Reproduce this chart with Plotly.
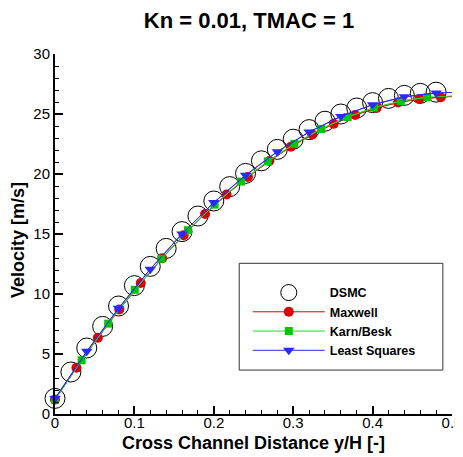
import plotly.graph_objects as go

# ---- data ----
dsmc_x = [0.00, 0.02, 0.04, 0.06, 0.08, 0.10, 0.12, 0.14, 0.16, 0.18, 0.20, 0.22, 0.24,
          0.26, 0.28, 0.30, 0.32, 0.34, 0.36, 0.38, 0.40, 0.42, 0.44, 0.46, 0.48]
dsmc_v = [1.3, 3.5, 5.5, 7.3, 9.0, 10.7, 12.3, 13.8, 15.2, 16.5, 17.75, 18.95, 20.05,
          21.1, 22.05, 22.9, 23.7, 24.4, 25.0, 25.5, 25.95, 26.3, 26.55, 26.72, 26.82]

maxwell_x = [0.0, 0.027, 0.054, 0.081, 0.108, 0.135, 0.162, 0.189, 0.216, 0.243,
             0.270, 0.297, 0.324, 0.351, 0.378, 0.405, 0.432, 0.459, 0.486]
maxwell_v = [1.2, 3.85, 6.35, 8.71, 10.92, 12.98, 14.90, 16.67, 18.29, 19.76,
             21.09, 22.27, 23.30, 24.19, 24.92, 25.51, 25.96, 26.26, 26.40]

karn_x = [0.0, 0.0335, 0.067, 0.1005, 0.134, 0.1675, 0.201, 0.2345, 0.268, 0.3015,
          0.335, 0.3685, 0.402, 0.4355, 0.469]
karn_v = [1.2, 4.48, 7.53, 10.35, 12.94, 15.31, 17.45, 19.37, 21.05, 22.51,
          23.75, 24.75, 25.53, 26.07, 26.40]

lsq_x = [0.0, 0.04, 0.08, 0.12, 0.16, 0.20, 0.24, 0.28, 0.32, 0.36, 0.40, 0.44, 0.48]
lsq_v = [1.3, 5.22, 8.81, 12.07, 15.01, 17.62, 19.90, 21.86, 23.50, 24.80, 25.78, 26.43, 26.76]

# curve values at the channel centre (lines continue past the last symbol)
centre_x = 0.5
maxwell_centre = 26.45
karn_centre = 26.5
lsq_centre = 26.8

x_tickvals = [0, 0.1, 0.2, 0.3, 0.4, 0.5]
x_ticktext = ["0", "0.1", "0.2", "0.3", "0.4", "0.5"]
y_tickvals = [0, 5, 10, 15, 20, 25, 30]
y_ticktext = ["0", "5", "10", "15", "20", "25", "30"]

title_text = "Kn = 0.01, TMAC = 1"
x_title = "Cross Channel Distance y/H [-]"
y_title = "Velocity [m/s]"

FONT = "Liberation Sans, Arial, sans-serif"

RED = "#dd0000"
GREEN = "#00c800"
GREEN_LINE = "#33cc33"
BLUE = "#2a2aff"

# the page body adds an 8 px margin around the figure; size the figure to fit the window
W, H = 455, 449
ML, MR, MT, MB = 47, 11, 46, 43
OFF = 8

fig = go.Figure()

fig.add_trace(go.Scatter(
    x=dsmc_x, y=dsmc_v, mode="markers", name="DSMC", cliponaxis=False,
    marker=dict(symbol="circle-open", size=20, color="black", line=dict(width=1, color="black")),
))

series = [
    ("Maxwell", maxwell_x, maxwell_v, maxwell_centre, RED, RED, "circle", 10),
    ("Karn/Besk", karn_x, karn_v, karn_centre, GREEN_LINE, GREEN, "square", 8),
    ("Least Squares", lsq_x, lsq_v, lsq_centre, BLUE, BLUE, "triangle-down", 10),
]
for name, xs, vs, vc, lc, mc, sym, sz in series:
    fig.add_trace(go.Scatter(
        x=list(xs) + [centre_x], y=list(vs) + [vc], mode="lines", showlegend=False,
        line=dict(color=lc, width=1), cliponaxis=False, hoverinfo="skip",
    ))
    fig.add_trace(go.Scatter(
        x=xs, y=vs, mode="lines+markers", name=name, cliponaxis=False,
        line=dict(color=lc, width=1),
        marker=dict(symbol=sym, size=sz, color=mc, line=dict(width=0)),
    ))

axis_common = dict(
    showgrid=False, zeroline=False, showline=True, linecolor="black", linewidth=2,
    ticks="inside", ticklen=8, tickwidth=2, tickcolor="black",
    tickfont=dict(family=FONT, size=15, color="black"),
    mirror=False, automargin=False,
)

fig.update_xaxes(
    range=[0, 0.5], tickvals=x_tickvals, ticktext=x_ticktext, ticklabelstandoff=-6,
    minor=dict(dtick=0.02, ticks="inside", ticklen=4, tickwidth=1, tickcolor="black", showgrid=False),
    **axis_common,
)
fig.update_yaxes(
    range=[0, 30], tickvals=y_tickvals, ticktext=y_ticktext,
    minor=dict(dtick=1, ticks="inside", ticklen=4, tickwidth=1, tickcolor="black", showgrid=False),
    **axis_common,
)

plot_w = W - ML - MR
plot_h = H - MT - MB
plot_left = OFF + ML
plot_bottom = OFF + H - MB

# axis titles
fig.add_annotation(text="<b>" + x_title + "</b>", xref="paper", yref="paper",
                   x=0.5, y=(plot_bottom - 443) / plot_h, xanchor="center", yanchor="middle",
                   showarrow=False, borderpad=0, font=dict(family=FONT, size=18, color="black"))
fig.add_annotation(text="<b>" + y_title + "</b>", xref="paper", yref="paper",
                   x=(18 - plot_left) / plot_w, y=(plot_bottom - 240) / plot_h,
                   xanchor="center", yanchor="middle", textangle=-90,
                   showarrow=False, borderpad=0, font=dict(family=FONT, size=18, color="black"))

# legend frame
fig.add_shape(type="rect", xref="paper", yref="paper",
              x0=0.464, x1=0.977, y0=0.122, y1=0.4186,
              line=dict(color="#333333", width=1), fillcolor="rgba(0,0,0,0)", layer="above")

fig.update_layout(
    width=W, height=H,
    margin=dict(l=ML, r=MR, t=MT, b=MB, autoexpand=False),
    paper_bgcolor="white", plot_bgcolor="white",
    font=dict(family=FONT, color="black"),
    title=dict(text="<b>" + title_text + "</b>", font=dict(family=FONT, size=22, color="black"),
               x=(249 - OFF) / W, xref="container", xanchor="center",
               y=1 - (20 - OFF) / H, yref="container", yanchor="middle"),
    showlegend=True,
    legend=dict(x=0.4856, y=0.378, xanchor="left", yanchor="top",
                bgcolor="rgba(0,0,0,0)", borderwidth=0, itemwidth=72,
                font=dict(family=FONT, size=12.5, color="black", weight="bold"),
                tracegroupgap=0),
)

fig.write_html("out.html")
